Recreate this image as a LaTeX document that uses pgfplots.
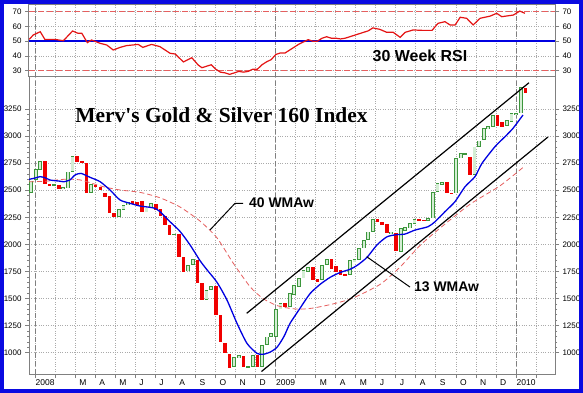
\documentclass[border=0pt]{standalone}
\usepackage{pgfplots}
\pgfplotsset{compat=1.18}
\usepackage{pgfplotstable}
\usepackage{fontspec}
\setmainfont{Liberation Sans}
\newfontfamily\serifb{Liberation Serif}
\definecolor{frameblue}{RGB}{10,10,225}
\definecolor{axgray}{RGB}{128,128,128}
\definecolor{gridgray}{RGB}{170,170,170}
\definecolor{gup}{RGB}{60,150,60}
\definecolor{gfill}{RGB}{212,238,212}
\definecolor{cred}{RGB}{240,0,0}
\definecolor{mablue}{RGB}{0,0,225}
\definecolor{madash}{RGB}{230,95,95}
\definecolor{rsired}{RGB}{228,20,20}

\pgfplotstableread{
i o c
0 2477 2588
1 2594 2692
2 2686 2772
5 2545 2555
7 2514 2530
8 2517 2671
9 2671 2815
13 2477 2557
19 2255 2323
20 2320 2360
21 2360 2395
25 2295 2340
26 2335 2378
31 2088 2100
34 1750 1812
35 1810 1862
38 1486 1579
39 1579 1615
44 870 963
45 948 979
47 868 876
48 871 979
50 871 1071
51 1071 1148
52 1148 1180
53 1148 1400
54 1400 1456
56 1425 1548
57 1532 1625
58 1609 1686
59 1686 1763
60 1748 1788
63 1671 1809
64 1809 1862
69 1717 1855
70 1840 1862
71 1855 1963
72 1963 2040
73 2040 2117
74 2117 2231
78 2096 2117
80 1932 2148
81 2126 2163
82 2148 2194
83 2188 2231
86 2218 2245
87 2240 2486
88 2486 2563
89 2548 2578
92 2471 2794
93 2794 2840
94 2830 2842
96 2640 2902
97 2902 2957
98 2963 3071
99 3061 3092
100 3086 3194
103 3092 3148
104 3132 3209
105 3194 3215
106 3209 3450
}\upc

\pgfplotstableread{
i o c
3 2766 2557
4 2555 2540
6 2545 2514
10 2815 2763
11 2770 2748
12 2754 2477
14 2551 2526
15 2526 2502
16 2471 2440
17 2446 2292
18 2292 2249
22 2400 2375
23 2390 2365
24 2400 2295
27 2372 2318
28 2325 2262
29 2265 2182
30 2180 2090
32 2100 1886
33 1886 1748
36 1858 1640
37 1640 1486
40 1615 1348
41 1348 1102
42 1093 994
43 988 860
46 969 871
49 979 871
55 1456 1425
61 1788 1671
62 1677 1655
65 1862 1769
66 1800 1748
67 1763 1717
68 1722 1712
75 2231 2209
76 2209 2178
77 2185 2102
79 2102 1940
84 2235 2222
85 2228 2215
90 2578 2471
91 2478 2465
95 2809 2640
101 3194 3090
102 3130 3086
107 3440 3394
}\dnc

\pgfplotsset{
  chartbase/.style={
    scale only axis, width=526bp, anchor=south west,
    xmin=-0.433, xmax=113.42,
    axis line style={draw=axgray, line width=1bp},
    tick style={draw=axgray, line width=0.6bp},
    tick align=outside, major tick length=4bp, minor tick length=2bp,
    ticklabel style={font=\fontsize{8}{9}\selectfont, text=black},
    /pgf/number format/assume math mode=true,
    /pgf/number format/1000 sep={},
    xtick={0.866,5.204,9.541,13.879,18.216,22.554,26.891,31.229,35.566,39.904,44.241,48.579,52.916,57.254,61.591,65.929,70.266,74.604,78.941,83.279,87.616,91.954,96.291,100.629,104.966,109.304},
    grid=major, major grid style={draw=gridgray, dotted, line width=0.6bp},
  },
  yearline/.style={draw=axgray, dashed, line width=0.8bp, dash pattern=on 5bp off 3bp},
  candle/.style 2 args={draw=none, mark=none, error bars/.cd, y dir=both, y explicit, error mark=none,
    error bar style={line width=#1, draw=#2, solid}},
}

\begin{document}
\begin{tikzpicture}
\path[use as bounding box] (0,0) rectangle (583bp,393bp);
\fill[white] (0,0) rectangle (583bp,393bp);

% ---------- main price panel ----------
\begin{axis}[chartbase, at={(29bp,19bp)}, height=297bp,
  ymin=803.5, ymax=3544.8,
  ytick={1000,1250,1500,1750,2000,2250,2500,2750,3000,3250},
  minor y tick num=4, minor x tick num=3,
  xtick pos=left,
  xticklabels={2008,,\kern3.5bp M,\kern3.5bp A,\kern3.5bp M,\kern3.5bp J,\kern3.5bp J,\kern3.5bp A,\kern3.5bp S,\kern3.5bp O,\kern3.5bp N,\kern3.5bp D,2009,,\kern3.5bp M,\kern3.5bp A,\kern3.5bp M,\kern3.5bp J,\kern3.5bp J,\kern3.5bp A,\kern3.5bp S,\kern3.5bp O,\kern3.5bp N,\kern3.5bp D,2010,},
  xticklabel style={anchor=north west, inner xsep=0.5bp, inner ysep=1.5bp, font=\fontsize{8.5}{9}\selectfont},
]
\addplot[yearline] coordinates {(0.866,803.5) (0.866,3544.8)};
\addplot[yearline] coordinates {(52.916,803.5) (52.916,3544.8)};
\addplot[yearline] coordinates {(104.966,803.5) (104.966,3544.8)};

% up candles: green outline, pale fill
\addplot[candle={3.8bp}{gup}]
  table[x=i, y expr={(\thisrow{o}+\thisrow{c})/2}, y error expr={abs(\thisrow{c}-\thisrow{o})/2}] {\upc};
\addplot[candle={2.2bp}{gfill}]
  table[x=i, y expr={(\thisrow{o}+\thisrow{c})/2}, y error expr={max(abs(\thisrow{c}-\thisrow{o})/2-7.4,0)}] {\upc};
% down candles: solid red
\addplot[candle={3.6bp}{cred}]
  table[x=i, y expr={(\thisrow{o}+\thisrow{c})/2}, y error expr={abs(\thisrow{c}-\thisrow{o})/2}] {\dnc};

% 40 week WMA (red dashed)
\addplot[madash, line width=0.8bp, dash pattern=on 5bp off 3bp, smooth, tension=0.4] coordinates {
(-0.43,2578) (3.03,2582) (6.93,2600) (10.61,2595) (15.58,2533) (19.26,2502) (23.59,2480)
(27.92,2430) (32.25,2345) (36.58,2215) (40.26,2060) (43.72,1830) (47.4,1610) (50.22,1500)
(53.25,1435) (56.06,1409) (58.23,1402) (61.04,1412) (65.37,1450) (69.7,1505) (75.54,1630)
(79.87,1790) (84.2,1990) (88.53,2150) (95.02,2370) (101.5,2540) (106.93,2725)};

% 13 week WMA (blue)
\addplot[mablue, line width=1.3bp, smooth, tension=0.4] coordinates {
(-0.43,2600) (0.87,2612) (1.95,2625) (3.03,2615) (4.11,2594) (5.2,2588) (6.28,2583) (7.14,2578)
(8.44,2595) (9.52,2640) (10.82,2655) (12.77,2619) (14.94,2579) (17.1,2502) (19.26,2410)
(21.43,2379) (23.59,2354) (25.76,2342) (26.84,2332) (27.92,2302) (30.09,2209) (32.25,2120)
(34.42,1995) (36.58,1850) (38.1,1765) (40.26,1650) (42.42,1486) (44.59,1271) (46.75,1086)
(48.92,994) (50.22,985) (51.73,1005) (53.25,1050) (54.76,1150) (56.06,1270) (58.23,1410)
(60.39,1545) (62.55,1630) (64.72,1695) (66.88,1740) (69.05,1770) (70.56,1805) (72.73,1880)
(74.89,1995) (77.06,2070) (79.22,2090) (80.95,2095) (83.12,2132) (85.93,2163) (87.45,2209)
(89.61,2302) (91.77,2394) (93.94,2532) (96.1,2625) (97.62,2748) (100.43,2902) (102.6,2994)
(104.33,3071) (106.49,3194)};

% trend channel and pointers
\addplot[black, line width=1.2bp] coordinates {(46.69,1363.7) (107.79,3492)};
\addplot[black, line width=1.2bp] coordinates {(49.89,826.5) (111.9,2991)};
\addplot[black, line width=1bp] coordinates {(38.74,2132.6) (44.16,2379) (45.89,2379)};
\addplot[black, line width=1bp] coordinates {(72.66,1886) (82.03,1606)};
\end{axis}

% right-hand labels of the price panel
\begin{axis}[chartbase, at={(29bp,19bp)}, height=297bp,
  ymin=803.5, ymax=3544.8, grid=none, hide x axis, axis y line*=right,
  ytick={1000,1250,1500,1750,2000,2250,2500,2750,3000,3250}, minor y tick num=4]
\addplot[draw=none] coordinates {(0,1000)};
\end{axis}

% ---------- RSI panel ----------
\begin{axis}[chartbase, at={(29bp,316bp)}, height=72bp,
  ymin=25.71, ymax=74.52, ytick={30,40,50,60,70},
  xticklabels={}, xtick style={draw=none}]
\addplot[yearline] coordinates {(0.866,25.71) (0.866,74.52)};
\addplot[yearline] coordinates {(52.916,25.71) (52.916,74.52)};
\addplot[yearline] coordinates {(104.966,25.71) (104.966,74.52)};
\addplot[madash, line width=0.9bp, dash pattern=on 6bp off 3bp] coordinates {(-0.433,30) (113.42,30)};
\addplot[madash, line width=0.9bp, dash pattern=on 6bp off 3bp] coordinates {(-0.433,70) (113.42,70)};
\addplot[mablue, line width=1.4bp] coordinates {(-0.433,50) (113.42,50)};
\addplot[rsired, line width=1.2bp] coordinates {
(-0.4,51.2) (0.5,54.2) (2,56.4) (3,51.2) (5.2,51.2) (7,50.3) (9,56.9) (10.2,55.3) (11,55.3)
(12.2,49) (13.1,50.8) (15,48.5) (16.4,47.4) (17.8,44) (19.3,45.8) (20.7,47) (22,47.4) (23.2,47.8)
(24.2,45.8) (26.1,47.8) (27.9,46.3) (30.1,41.8) (31.2,41.3) (33,35.9) (34.8,38.8) (36.2,33.8)
(37,32) (38,33) (39,34) (40,31) (41,29) (42,28.5) (43,27.5) (44,28.5) (45,29.5) (46,29) (47,29.5)
(48,31) (49,31) (50,34) (51,36) (52,37.5) (53,41) (54,42) (55,42) (56,44) (57,46) (58,48)
(59,49.5) (60,51) (61,50) (62,50) (63,52) (64,53) (65,52) (66,52) (67,51.5) (68,52) (69,53)
(70,54) (71,55) (72,56) (73,57) (74,59) (75.5,58) (77,56) (78.4,56) (79.9,52.6) (81,56)
(82.7,57.6) (84.8,57.3) (86.8,57.3) (88.1,62.1) (89.6,63.2) (90.7,61) (91.8,61) (92.9,66.2)
(94.3,65.5) (95.7,61) (97.2,65.5) (99.4,67) (100.8,68.9) (101.9,66.6) (104.4,67.7) (105.8,70.4)
(106.9,68.9)};
\end{axis}

\begin{axis}[chartbase, at={(29bp,316bp)}, height=72bp,
  ymin=25.71, ymax=74.52, grid=none, hide x axis, axis y line*=right,
  ytick={30,40,50,60,70}]
\addplot[draw=none] coordinates {(0,50)};
\end{axis}

% ---------- texts ----------
\node at (221.5bp,278bp) {\serifb\bfseries\fontsize{21.5}{24}\selectfont Merv's Gold \& Silver 160 Index};
\node at (420bp,337bp) {\bfseries\fontsize{16}{18}\selectfont 30 Week RSI};
\node[anchor=west, inner xsep=0pt] at (249bp,190.5bp) {\bfseries\fontsize{14}{16}\selectfont 40 WMAw};
\node[anchor=west, inner xsep=0pt] at (414bp,106bp) {\bfseries\fontsize{14}{16}\selectfont 13 WMAw};

% outer blue frame
\draw[frameblue, line width=4bp] (2bp,2bp) rectangle (581bp,391bp);
\end{tikzpicture}
\end{document}
